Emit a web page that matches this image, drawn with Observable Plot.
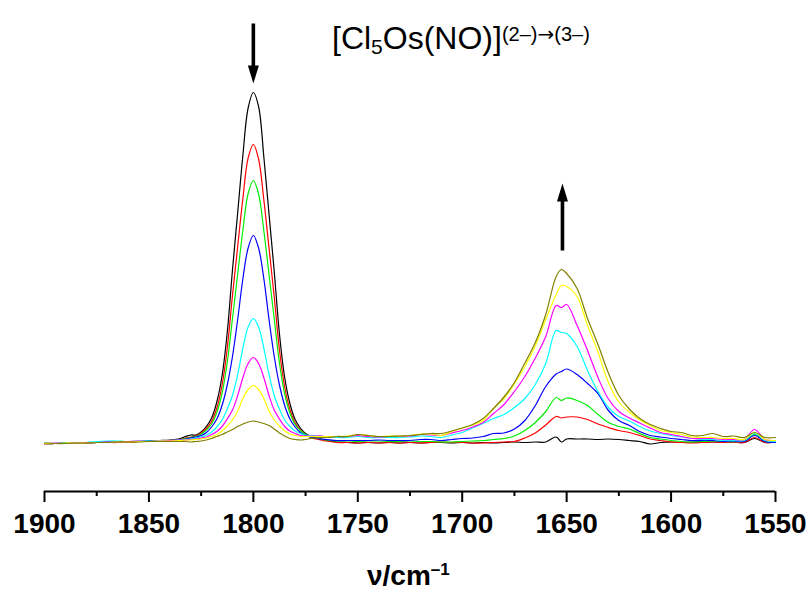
<!DOCTYPE html>
<html><head><meta charset="utf-8">
<script src="https://cdn.jsdelivr.net/npm/d3@7"></script>
<script src="https://cdn.jsdelivr.net/npm/@observablehq/plot@0.6"></script>
<style>body{margin:0;background:#fff} #chart svg{display:block}</style>
</head><body><div id="chart"></div>
<script>
// wavenumber grid (cm^-1)
const wavenumbers = [
  1900,1895,1890,1885,1880,1875,1870,1865,1860,1855,1850,1845,1840,1835,
  1832.5,1830,1827.5,1825,1822.5,1820,1817.5,1815,1812.5,1810,1807.5,1805,1802.5,1800,1797.5,1795,1792.5,1790,1787.5,1785,1782.5,1780,1777.5,1775,1772.5,1770,1767.5,
  1765,1760,1755,1750,1745,1740,1735,1730,1725,1720,1715,1710,1705,1700,1695,1690,1685,1680,1675,1670,1665,1660,1655,1652.5,1650,1645,1640,1635,1630,1625,1620,1615,1610,1605,1600,1595,1590,1585,1580,1575,1570,1565,1560,1555,1550
];
// absorbance (mA, arbitrary offset) of successive spectra
const black = [-4,-4,-3,-3,-3,-2,-2,-1,-1,0,1,2,3,6,
  10,13,13,19,30,47,79,131,218,343,458,573,667,698,670,570,455,340,215,128,76,44,27,16,10,7,5,
  2,-1,-2,-3,-2,-3,-2,-3,-2,-3,-2,-2,-3,-2,-3,-2,-3,-2,-1,-2,-1,-1,9,-1,5,5,5,4,5,4,2,0,-5,-2,-1,-2,-1,-2,-1,-2,-1,-2,6,-2,-1];
const red = [-5,-4,-4,-3,-3,-2,-2,-2,-1,0,0,1,2,4,
  7,9,11,17,26,40,67,112,186,292,390,487,567,594,565,484,387,289,183,109,64,37,23,14,8,5,3,
  1,-2,-2,-3,-2,-3,-2,-3,-2,-3,-2,-1,-2,-2,-3,-3,-2,-1,0,7,17,33,50,47,49,49,44,35,28,22,18,12,5,2,-1,-2,-3,-2,-1,-2,-1,-2,8,-2,-1];
const green = [-4,-4,-3,-3,-2,-2,-1,0,0,0,1,1,2,4,
  6,8,10,15,23,35,58,96,158,246,335,423,496,522,495,422,334,245,157,95,57,34,22,14,9,7,5,
  3,1,1,0,1,1,0,0,1,0,0,-1,-1,0,1,2,4,6,11,22,38,60,88,82,87,82,72,54,38,30,25,16,8,5,2,0,-1,0,1,0,0,1,14,0,0];
const blue = [-4,-4,-3,-2,-3,-2,-1,-1,0,0,1,1,2,3,
  5,7,9,12,18,29,45,72,113,170,244,326,387,412,387,326,244,170,113,72,45,29,18,12,9,7,5,
  4,2,2,2,2,3,2,2,2,4,4,2,4,6,7,10,16,17,25,42,72,110,135,140,145,134,116,96,62,42,32,20,12,9,6,4,2,2,2,0,1,0,12,0,-2];
const cyan = [-3,-4,-3,-2,-2,0,1,1,0,1,1,2,2,3,
  4,5,7,9,13,19,29,43,65,92,134,187,229,246,229,187,134,92,65,43,30,21,16,13,12,11,11,
  9,8,8,10,8,8,8,8,9,11,10,8,13,18,27,36,46,54,68,86,114,156,222,218,216,190,142,100,68,50,41,30,21,16,12,9,6,4,4,2,2,2,16,2,0];
const magenta = [-4,-3,-4,-3,-2,-2,-1,-1,0,1,0,1,2,3,
  3,4,5,7,9,14,20,30,45,63,92,128,156,168,156,128,92,63,45,30,21,16,12,11,11,11,11,
  10,10,10,12,10,9,10,10,11,14,13,12,17,22,29,38,56,74,100,130,167,210,272,268,274,232,182,128,85,60,47,37,27,18,14,10,6,6,6,4,4,4,24,4,2];
const yellow = [-4,-4,-3,-3,-3,-2,-2,-1,-1,0,0,1,1,2,
  3,3,4,5,7,10,14,21,31,43,61,86,104,112,104,86,61,43,31,21,15,12,10,10,10,10,10,
  10,10,11,14,12,10,11,11,12,15,15,12,20,27,33,42,66,86,115,150,191,244,294,312,310,290,232,179,118,79,59,43,32,22,18,14,9,8,8,6,6,4,18,4,2];
const olive = [-3,-4,-4,-3,-3,-2,-2,-1,-1,-1,0,0,0,0,
  0,-1,0,1,3,6,10,14,19,24,30,35,39,41,39,36,32,25,17,11,6,4,3,4,6,7,8,
  8,10,10,14,12,10,10,11,12,14,16,16,21,27,34,46,66,89,118,157,198,254,330,344,336,306,246,194,137,92,65,46,34,26,20,18,12,12,16,10,11,8,18,8,8];

const seriesNames = ["black","red","green","blue","cyan","magenta","yellow","olive"];
const seriesValues = [black, red, green, blue, cyan, magenta, yellow, olive];
const seriesColors = ["#000000","#ff0000","#00ee00","#0000ff","#00ffff","#ff00ff","#ffff00","#808000"];

const xMajorTicks = [1900,1850,1800,1750,1700,1650,1600,1550];
const xMinorTicks = [1875,1825,1775,1725,1675,1625,1575];

// arrows: decreasing band at 1800, growing band at 1652
const arrowDownX = [1800], arrowDownY = [836];
const arrowUpX = [1652], arrowUpY = [382];

const titleMain1 = "[Cl", titleSub = "5", titleMain2 = "Os(NO)]", titleSup1 = "(2–)", titleArrow = "→", titleSup2 = "(3–)";
const xLabelMain = "ν/cm", xLabelSup = "–1";

const rows = seriesNames.flatMap((name, i) =>
  seriesValues[i].map((v, j) => ({w: wavenumbers[j], a: v, series: name})));

const arrowShape = {
  draw(context, l, r) {
    const head = 18, hw = 5.5, sw = 1.8;
    context.moveTo(-sw, 0);
    context.lineTo(sw, 0);
    context.lineTo(sw, -(l - head));
    context.lineTo(hw, -(l - head));
    context.lineTo(0, -l);
    context.lineTo(-hw, -(l - head));
    context.lineTo(-sw, -(l - head));
    context.closePath();
  }
};

const font = "'Liberation Sans', Arial, Helvetica, sans-serif";

const svg = Plot.plot({
  width: 812,
  height: 593,
  marginLeft: 44,
  marginRight: 37,
  marginTop: 0,
  marginBottom: 102,
  style: {fontFamily: font, background: "#fff", color: "#000"},
  x: {domain: [1900, 1550], axis: null},
  y: {domain: [0, 700], range: [441, 91], axis: null},
  marks: [
    Plot.ruleY([-100], {stroke: "#000", strokeWidth: 2}),
    Plot.axisX({ticks: xMinorTicks, tickSize: 5, tickFormat: () => "", strokeWidth: 2, label: null}),
    Plot.axisX({ticks: xMajorTicks, tickSize: 11, tickPadding: 11, tickFormat: d3.format("d"),
      strokeWidth: 2, fontSize: 28, fontWeight: "bold", label: null, fill: "#000"}),
    ...seriesNames.map((name, i) => Plot.line(rows.filter(d => d.series === name), {
      x: "w", y: "a", stroke: seriesColors[i], strokeWidth: 1.2, curve: "catmull-rom"
    })),
    Plot.vector(arrowDownX, {x: d => d, y: (d, i) => arrowDownY[i], length: 60, rotate: 180,
      anchor: "start", shape: arrowShape, fill: "#000", stroke: "none"}),
    Plot.vector(arrowUpX, {x: d => d, y: (d, i) => arrowUpY[i], length: 67, rotate: 0,
      anchor: "start", shape: arrowShape, fill: "#000", stroke: "none"})
  ]
});

const s = d3.select(svg);
const t = s.append("text").attr("x", 332).attr("y", 49).attr("text-anchor", "start")
  .attr("font-family", font).attr("font-size", 32).attr("fill", "#000");
t.append("tspan").text(titleMain1);
t.append("tspan").attr("font-size", 21).attr("dy", 5).text(titleSub);
t.append("tspan").attr("dy", -5).text(titleMain2);
t.append("tspan").attr("font-size", 20).attr("dy", -8).text(titleSup1);
t.append("tspan").attr("font-size", 20).attr("font-family", "'DejaVu Sans', sans-serif").text(titleArrow);
t.append("tspan").attr("font-size", 20).text(titleSup2);

const xl = s.append("text").attr("x", 367).attr("y", 585).attr("text-anchor", "start")
  .attr("font-family", font).attr("font-size", 28).attr("font-weight", "bold").attr("fill", "#000");
xl.append("tspan").text(xLabelMain);
xl.append("tspan").attr("font-size", 17).attr("dy", -10).text(xLabelSup);

document.getElementById("chart").appendChild(svg);
</script>
</body></html>
